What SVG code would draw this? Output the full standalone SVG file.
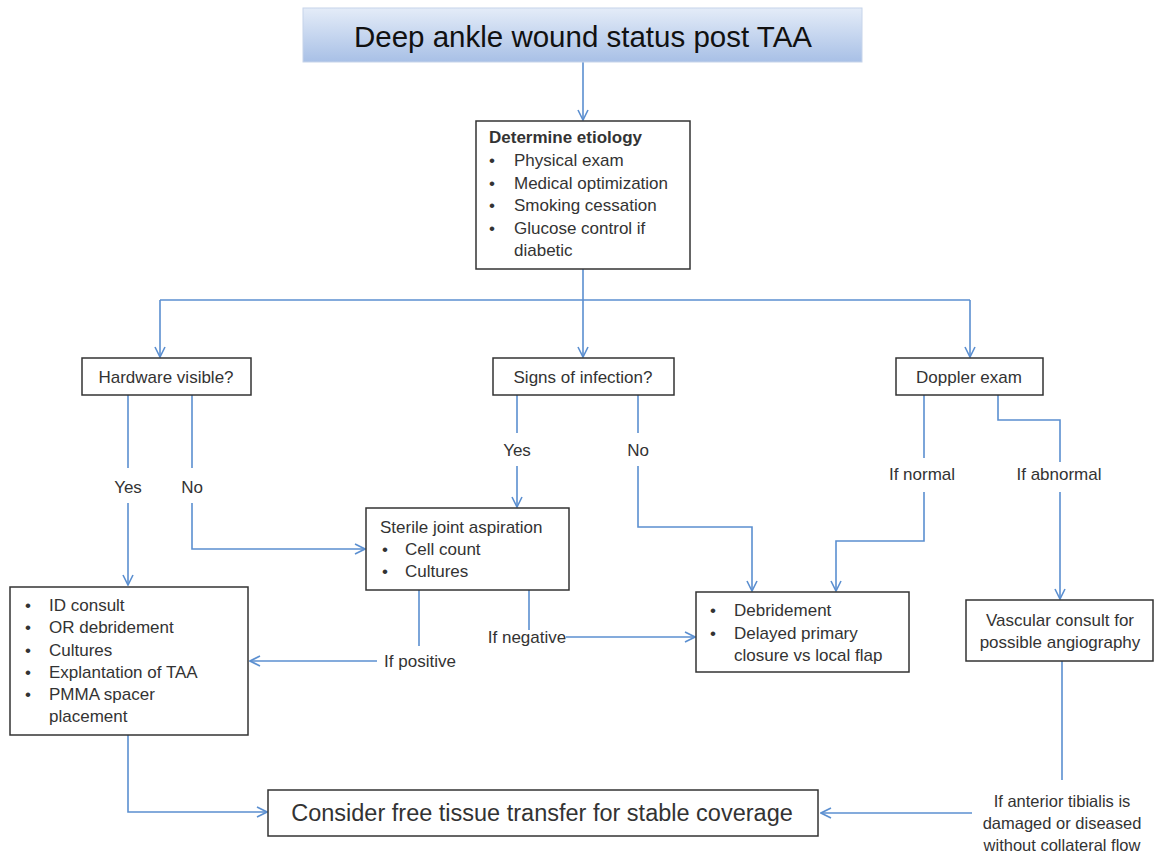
<svg xmlns="http://www.w3.org/2000/svg" width="1154" height="853" viewBox="0 0 1154 853">
<defs>
<linearGradient id="tg" x1="0" y1="0" x2="0" y2="1">
<stop offset="0" stop-color="#e4ecf8"/>
<stop offset="1" stop-color="#a8c0e6"/>
</linearGradient>
<marker id="ar" viewBox="0 0 12 12" refX="11" refY="6" markerWidth="12" markerHeight="12" markerUnits="userSpaceOnUse" orient="auto">
<path d="M1,1 L11,6 L1,11" fill="none" stroke="#5b8fd0" stroke-width="1.6"/>
</marker>
</defs>
<style>
.box{fill:#fff;stroke:#333;stroke-width:1.5}
.t{font-family:"Liberation Sans",Arial,sans-serif;font-size:17px;fill:#333}
.c{text-anchor:middle}
.b{font-weight:bold}
.ln{fill:none;stroke:#5b8fd0;stroke-width:1.6}
</style>
<rect width="1154" height="853" fill="#fff"/>

<g id="connectors">
<path class="ln" d="M583,62 V120" marker-end="url(#ar)"/>
<path class="ln" d="M583,269 V300"/>
<path class="ln" d="M160,300 H970"/>
<path class="ln" d="M160,300 V357" marker-end="url(#ar)"/>
<path class="ln" d="M583,300 V357" marker-end="url(#ar)"/>
<path class="ln" d="M970,300 V357" marker-end="url(#ar)"/>
<path class="ln" d="M128,395 V468"/>
<path class="ln" d="M128,503 V585" marker-end="url(#ar)"/>
<path class="ln" d="M192,395 V468"/>
<path class="ln" d="M192,503 V549 H365" marker-end="url(#ar)"/>
<path class="ln" d="M517,395 V433"/>
<path class="ln" d="M517,466 V507" marker-end="url(#ar)"/>
<path class="ln" d="M638,395 V433"/>
<path class="ln" d="M638,466 V527 H752 V591" marker-end="url(#ar)"/>
<path class="ln" d="M924,395 V458"/>
<path class="ln" d="M924,492 V541 H836 V591" marker-end="url(#ar)"/>
<path class="ln" d="M998,395 V420 H1060 V462"/>
<path class="ln" d="M1060,492 V599" marker-end="url(#ar)"/>
<path class="ln" d="M419,590 V646"/>
<path class="ln" d="M377,661 H250" marker-end="url(#ar)"/>
<path class="ln" d="M529,590 V630"/>
<path class="ln" d="M566,637 H695" marker-end="url(#ar)"/>
<path class="ln" d="M128,735 V812 H267" marker-end="url(#ar)"/>
<path class="ln" d="M1062,661 V780"/>
<path class="ln" d="M972,813 H821" marker-end="url(#ar)"/>
</g>

<g id="title">
<rect x="303" y="8" width="559" height="54" fill="url(#tg)" stroke="#c6d4ea" stroke-width="1"/>
<text class="t c" x="583" y="47" style="font-size:29.5px;fill:#111">Deep ankle wound status post TAA</text>
</g>

<g id="etiology">
<rect class="box" x="476" y="121" width="214" height="148"/>
<text class="t b" x="489" y="143">Determine etiology</text>
<text class="t" x="489" y="166">•</text><text class="t" x="514" y="166">Physical exam</text>
<text class="t" x="489" y="189">•</text><text class="t" x="514" y="189">Medical optimization</text>
<text class="t" x="489" y="211">•</text><text class="t" x="514" y="211">Smoking cessation</text>
<text class="t" x="489" y="234">•</text><text class="t" x="514" y="234">Glucose control if</text>
<text class="t" x="514" y="256">diabetic</text>
</g>

<g id="hardware">
<rect class="box" x="82" y="358" width="169" height="37"/>
<text class="t c" x="166" y="383">Hardware visible?</text>
</g>

<g id="infection">
<rect class="box" x="493" y="358" width="181" height="37"/>
<text class="t c" x="583" y="383">Signs of infection?</text>
</g>

<g id="doppler">
<rect class="box" x="896" y="358" width="147" height="37"/>
<text class="t c" x="969" y="383">Doppler exam</text>
</g>

<g id="labels">
<text class="t c" x="128" y="493">Yes</text>
<text class="t c" x="192" y="493">No</text>
<text class="t c" x="517" y="456">Yes</text>
<text class="t c" x="638" y="456">No</text>
<text class="t c" x="922" y="480">If normal</text>
<text class="t c" x="1059" y="480">If abnormal</text>
<text class="t c" x="420" y="667">If positive</text>
<text class="t c" x="527" y="643">If negative</text>
<text class="t c" x="1062" y="807" style="font-size:16.5px">If anterior tibialis is</text>
<text class="t c" x="1062" y="829" style="font-size:16.5px">damaged or diseased</text>
<text class="t c" x="1062" y="851" style="font-size:16.5px">without collateral flow</text>
</g>

<g id="sterile">
<rect class="box" x="366" y="508" width="203" height="82"/>
<text class="t" x="380" y="533">Sterile joint aspiration</text>
<text class="t" x="382" y="555">•</text><text class="t" x="405" y="555">Cell count</text>
<text class="t" x="382" y="577">•</text><text class="t" x="405" y="577">Cultures</text>
</g>

<g id="debridement">
<rect class="box" x="696" y="592" width="213" height="80"/>
<text class="t" x="710" y="616">•</text><text class="t" x="734" y="616">Debridement</text>
<text class="t" x="710" y="639">•</text><text class="t" x="734" y="639">Delayed primary</text>
<text class="t" x="734" y="661">closure vs local flap</text>
</g>

<g id="vascular">
<rect class="box" x="966" y="600" width="187" height="61"/>
<text class="t c" x="1060" y="626">Vascular consult for</text>
<text class="t c" x="1060" y="648">possible angiography</text>
</g>

<g id="id-consult">
<rect class="box" x="10" y="587" width="238" height="148"/>
<text class="t" x="25" y="611">•</text><text class="t" x="49" y="611">ID consult</text>
<text class="t" x="25" y="633">•</text><text class="t" x="49" y="633">OR debridement</text>
<text class="t" x="25" y="656">•</text><text class="t" x="49" y="656">Cultures</text>
<text class="t" x="25" y="678">•</text><text class="t" x="49" y="678">Explantation of TAA</text>
<text class="t" x="25" y="700">•</text><text class="t" x="49" y="700">PMMA spacer</text>
<text class="t" x="49" y="722">placement</text>
</g>

<g id="consider">
<rect class="box" x="268" y="790" width="550" height="46"/>
<text class="t c" x="542" y="821" style="font-size:23.5px">Consider free tissue transfer for stable coverage</text>
</g>
</svg>
